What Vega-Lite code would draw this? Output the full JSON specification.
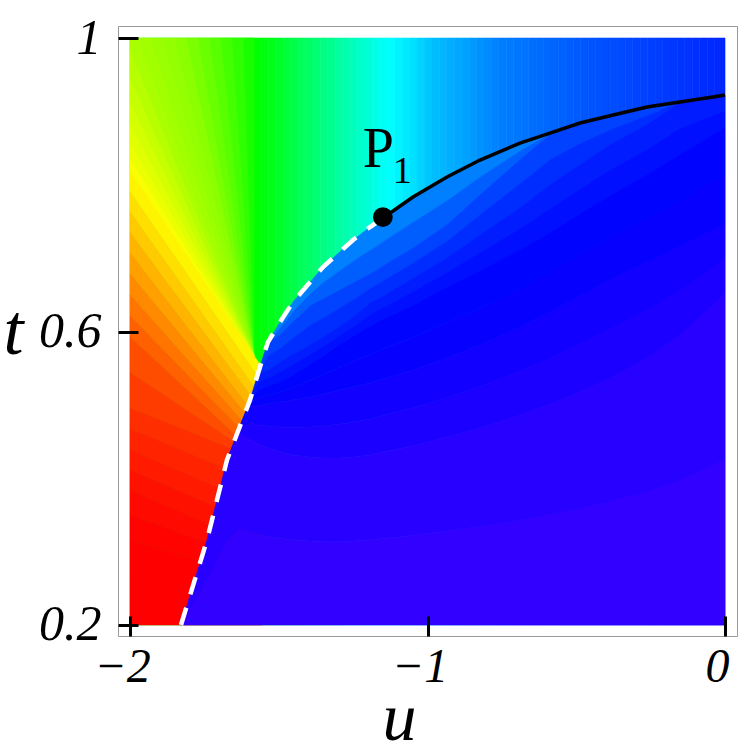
{
  "$schema": "https://vega.github.io/schema/vega-lite/v6.json",
  "width": 619,
  "height": 610,
  "autosize": {"type": "none"},
  "padding": {"left": 118, "top": 26, "right": 10, "bottom": 111},
  "background": "white",
  "config": {"view": {"stroke": "#999999", "strokeWidth": 1}},
  "datasets": {
    "strips": [
      {"u": -2, "u2": -1.56, "h": 120},
      {"u": -1.56, "u2": -1.535, "h": 122.3},
      {"u": -1.535, "u2": -1.51, "h": 125.6},
      {"u": -1.51, "u2": -1.485, "h": 129.7},
      {"u": -1.485, "u2": -1.46, "h": 133.5},
      {"u": -1.46, "u2": -1.435, "h": 137.2},
      {"u": -1.435, "u2": -1.41, "h": 140.8},
      {"u": -1.41, "u2": -1.385, "h": 144},
      {"u": -1.385, "u2": -1.36, "h": 147.3},
      {"u": -1.36, "u2": -1.335, "h": 150.5},
      {"u": -1.335, "u2": -1.31, "h": 153.7},
      {"u": -1.31, "u2": -1.285, "h": 157.2},
      {"u": -1.285, "u2": -1.26, "h": 160.6},
      {"u": -1.26, "u2": -1.235, "h": 164.2},
      {"u": -1.235, "u2": -1.21, "h": 167.6},
      {"u": -1.21, "u2": -1.185, "h": 170.8},
      {"u": -1.185, "u2": -1.16, "h": 174.1},
      {"u": -1.16, "u2": -1.135, "h": 177.3},
      {"u": -1.135, "u2": -1.11, "h": 180.4},
      {"u": -1.11, "u2": -1.085, "h": 182.6},
      {"u": -1.085, "u2": -1.06, "h": 184.9},
      {"u": -1.06, "u2": -1.035, "h": 187.4},
      {"u": -1.035, "u2": -1.01, "h": 190.3},
      {"u": -1.01, "u2": -0.985, "h": 193.2},
      {"u": -0.985, "u2": -0.96, "h": 195.6},
      {"u": -0.96, "u2": -0.935, "h": 197.2},
      {"u": -0.935, "u2": -0.91, "h": 198.8},
      {"u": -0.91, "u2": -0.885, "h": 200.4},
      {"u": -0.885, "u2": -0.86, "h": 202},
      {"u": -0.86, "u2": -0.835, "h": 203.7},
      {"u": -0.835, "u2": -0.81, "h": 205.4},
      {"u": -0.81, "u2": -0.785, "h": 207.2},
      {"u": -0.785, "u2": -0.76, "h": 208.9},
      {"u": -0.76, "u2": -0.735, "h": 210.3},
      {"u": -0.735, "u2": -0.71, "h": 211.2},
      {"u": -0.71, "u2": -0.685, "h": 212.1},
      {"u": -0.685, "u2": -0.66, "h": 213},
      {"u": -0.66, "u2": -0.635, "h": 213.9},
      {"u": -0.635, "u2": -0.61, "h": 214.8},
      {"u": -0.61, "u2": -0.585, "h": 215.7},
      {"u": -0.585, "u2": -0.56, "h": 216.5},
      {"u": -0.56, "u2": -0.535, "h": 217.2},
      {"u": -0.535, "u2": -0.51, "h": 218},
      {"u": -0.51, "u2": -0.485, "h": 218.7},
      {"u": -0.485, "u2": -0.46, "h": 219.5},
      {"u": -0.46, "u2": -0.435, "h": 220.2},
      {"u": -0.435, "u2": -0.41, "h": 221},
      {"u": -0.41, "u2": -0.385, "h": 221.6},
      {"u": -0.385, "u2": -0.36, "h": 222.2},
      {"u": -0.36, "u2": -0.335, "h": 222.8},
      {"u": -0.335, "u2": -0.31, "h": 223.4},
      {"u": -0.31, "u2": -0.285, "h": 223.9},
      {"u": -0.285, "u2": -0.26, "h": 224.5},
      {"u": -0.26, "u2": -0.235, "h": 225.1},
      {"u": -0.235, "u2": -0.21, "h": 225.7},
      {"u": -0.21, "u2": -0.185, "h": 226.3},
      {"u": -0.185, "u2": -0.16, "h": 226.9},
      {"u": -0.16, "u2": -0.135, "h": 227.5},
      {"u": -0.135, "u2": -0.11, "h": 228.1},
      {"u": -0.11, "u2": -0.085, "h": 228.7},
      {"u": -0.085, "u2": -0.06, "h": 229.3},
      {"u": -0.06, "u2": -0.035, "h": 229.9},
      {"u": -0.035, "u2": -0.01, "h": 230.5},
      {"u": -0.01, "u2": 0, "h": 230.9}
    ],
    "fan": [
      {"b": "w1", "u": -1.6205, "hi": 1, "lo": 1, "h": 114.2},
      {"b": "w1", "u": -1.5832, "hi": 1, "lo": 0.5666, "h": 114.2},
      {"b": "w2", "u": -1.6578, "hi": 1, "lo": 1, "h": 109},
      {"b": "w2", "u": -1.6205, "hi": 1, "lo": 0.7829, "h": 109},
      {"b": "w2", "u": -1.5832, "hi": 0.5666, "lo": 0.5666, "h": 109},
      {"b": "w3", "u": -1.6955, "hi": 1, "lo": 1, "h": 103.9},
      {"b": "w3", "u": -1.6578, "hi": 1, "lo": 0.8544, "h": 103.9},
      {"b": "w3", "u": -1.5832, "hi": 0.5666, "lo": 0.5666, "h": 103.9},
      {"b": "w4", "u": -1.7334, "hi": 1, "lo": 1, "h": 99.2},
      {"b": "w4", "u": -1.6955, "hi": 1, "lo": 0.8904, "h": 99.2},
      {"b": "w4", "u": -1.5832, "hi": 0.5666, "lo": 0.5666, "h": 99.2},
      {"b": "w5", "u": -1.7718, "hi": 1, "lo": 1, "h": 95.2},
      {"b": "w5", "u": -1.7334, "hi": 1, "lo": 0.9121, "h": 95.2},
      {"b": "w5", "u": -1.5832, "hi": 0.5666, "lo": 0.5666, "h": 95.2},
      {"b": "w6", "u": -1.8104, "hi": 1, "lo": 1, "h": 91.2},
      {"b": "w6", "u": -1.7718, "hi": 1, "lo": 0.9263, "h": 91.2},
      {"b": "w6", "u": -1.5832, "hi": 0.5666, "lo": 0.5666, "h": 91.2},
      {"b": "w7", "u": -1.8497, "hi": 1, "lo": 1, "h": 87.2},
      {"b": "w7", "u": -1.8104, "hi": 1, "lo": 0.9361, "h": 87.2},
      {"b": "w7", "u": -1.5832, "hi": 0.5666, "lo": 0.5666, "h": 87.2},
      {"b": "w8", "u": -1.8897, "hi": 1, "lo": 1, "h": 85.4},
      {"b": "w8", "u": -1.8497, "hi": 1, "lo": 0.9434, "h": 85.4},
      {"b": "w8", "u": -1.5832, "hi": 0.5666, "lo": 0.5666, "h": 85.4},
      {"b": "w9", "u": -1.9304, "hi": 1, "lo": 1, "h": 83.7},
      {"b": "w9", "u": -1.8897, "hi": 1, "lo": 0.9492, "h": 83.7},
      {"b": "w9", "u": -1.5832, "hi": 0.5666, "lo": 0.5666, "h": 83.7},
      {"b": "w10", "u": -1.9724, "hi": 1, "lo": 1, "h": 82},
      {"b": "w10", "u": -1.9304, "hi": 1, "lo": 0.9534, "h": 82},
      {"b": "w10", "u": -1.5832, "hi": 0.5666, "lo": 0.5666, "h": 82},
      {"b": "w11", "u": -2, "hi": 1, "lo": 0.9849, "h": 80.3},
      {"b": "w11", "u": -1.9724, "hi": 1, "lo": 0.9572, "h": 80.3},
      {"b": "w11", "u": -1.5832, "hi": 0.5666, "lo": 0.5666, "h": 80.3},
      {"b": "w12", "u": -2, "hi": 0.9849, "lo": 0.9462, "h": 77},
      {"b": "w12", "u": -1.5832, "hi": 0.5666, "lo": 0.5666, "h": 77},
      {"b": "w13", "u": -2, "hi": 0.9462, "lo": 0.9131, "h": 73.4},
      {"b": "w13", "u": -1.5832, "hi": 0.5666, "lo": 0.5666, "h": 73.4},
      {"b": "w14", "u": -2, "hi": 0.9131, "lo": 0.8844, "h": 70.2},
      {"b": "w14", "u": -1.5832, "hi": 0.5666, "lo": 0.5666, "h": 70.2},
      {"b": "w15", "u": -2, "hi": 0.8844, "lo": 0.8594, "h": 67.3},
      {"b": "w15", "u": -1.5832, "hi": 0.5666, "lo": 0.5666, "h": 67.3},
      {"b": "w16", "u": -2, "hi": 0.8594, "lo": 0.837, "h": 64.4},
      {"b": "w16", "u": -1.5832, "hi": 0.5666, "lo": 0.5666, "h": 64.4},
      {"b": "w17", "u": -2, "hi": 0.837, "lo": 0.8171, "h": 61.5},
      {"b": "w17", "u": -1.5832, "hi": 0.5666, "lo": 0.5666, "h": 61.5},
      {"b": "l1", "u": -2, "hi": 0.8181, "lo": 0.7905, "h": 57.5},
      {"b": "l1", "u": -1.5563, "hi": 0.5509, "lo": 0.53, "h": 57.5},
      {"b": "l2", "u": -2, "hi": 0.7905, "lo": 0.7629, "h": 52.5},
      {"b": "l2", "u": -1.5563, "hi": 0.53, "lo": 0.5091, "h": 52.5},
      {"b": "l3", "u": -2, "hi": 0.7629, "lo": 0.7349, "h": 47.5},
      {"b": "l3", "u": -1.5563, "hi": 0.5091, "lo": 0.4914, "h": 47.5},
      {"b": "l4", "u": -2, "hi": 0.7349, "lo": 0.707, "h": 42.5},
      {"b": "l4", "u": -1.5563, "hi": 0.4914, "lo": 0.4737, "h": 42.5},
      {"b": "l5", "u": -2, "hi": 0.707, "lo": 0.6784, "h": 37.5},
      {"b": "l5", "u": -1.5563, "hi": 0.4737, "lo": 0.4607, "h": 37.5},
      {"b": "l6", "u": -2, "hi": 0.6784, "lo": 0.6497, "h": 32.5},
      {"b": "l6", "u": -1.5563, "hi": 0.4607, "lo": 0.4478, "h": 32.5},
      {"b": "l7", "u": -2, "hi": 0.6497, "lo": 0.6211, "h": 27.5},
      {"b": "l7", "u": -1.5563, "hi": 0.4478, "lo": 0.4363, "h": 27.5},
      {"b": "l8", "u": -2, "hi": 0.6211, "lo": 0.5925, "h": 22.5},
      {"b": "l8", "u": -1.5563, "hi": 0.4363, "lo": 0.425, "h": 22.5},
      {"b": "l9", "u": -2, "hi": 0.5925, "lo": 0.5441, "h": 18},
      {"b": "l9", "u": -1.5563, "hi": 0.425, "lo": 0.4242, "h": 18},
      {"b": "l10", "u": -2, "hi": 0.5441, "lo": 0.4957, "h": 14},
      {"b": "l10", "u": -1.5563, "hi": 0.4242, "lo": 0.4234, "h": 14},
      {"b": "l11", "u": -2, "hi": 0.4957, "lo": 0.4671, "h": 10.75},
      {"b": "l11", "u": -1.5563, "hi": 0.4234, "lo": 0.3924, "h": 10.75},
      {"b": "l12", "u": -2, "hi": 0.4671, "lo": 0.4385, "h": 8.25},
      {"b": "l12", "u": -1.5563, "hi": 0.3924, "lo": 0.3616, "h": 8.25},
      {"b": "l13", "u": -2, "hi": 0.4385, "lo": 0.4112, "h": 6},
      {"b": "l13", "u": -1.5563, "hi": 0.3616, "lo": 0.334, "h": 6},
      {"b": "l14", "u": -2, "hi": 0.4112, "lo": 0.384, "h": 4},
      {"b": "l14", "u": -1.5563, "hi": 0.334, "lo": 0.3063, "h": 4},
      {"b": "l15", "u": -2, "hi": 0.384, "lo": 0.3499, "h": 2.25},
      {"b": "l15", "u": -1.5563, "hi": 0.3063, "lo": 0.2846, "h": 2.25},
      {"b": "l16", "u": -2, "hi": 0.3499, "lo": 0.3158, "h": 0.75},
      {"b": "l16", "u": -1.5563, "hi": 0.2846, "lo": 0.263, "h": 0.75},
      {"b": "l17", "u": -2, "hi": 0.3158, "lo": 0.2, "h": 0},
      {"b": "l17", "u": -1.5563, "hi": 0.263, "lo": 0.2, "h": 0}
    ],
    "blue": [
      {"b": "s1", "u": -1.5361, "hi": 0.5857, "lo": 0.5857, "h": 210},
      {"b": "s1", "u": -1.4958, "hi": 0.6129, "lo": 0.6041, "h": 210},
      {"b": "s1", "u": -1.4521, "hi": 0.6402, "lo": 0.6266, "h": 210},
      {"b": "s1", "u": -1.395, "hi": 0.6672, "lo": 0.651, "h": 210},
      {"b": "s1", "u": -1.3513, "hi": 0.6879, "lo": 0.6661, "h": 210},
      {"b": "s1", "u": -1.2941, "hi": 0.7088, "lo": 0.6827, "h": 210},
      {"b": "s1", "u": -1.2504, "hi": 0.7247, "lo": 0.6954, "h": 210},
      {"b": "s1", "u": -1.1933, "hi": 0.7424, "lo": 0.7104, "h": 210},
      {"b": "s1", "u": -1.1496, "hi": 0.7547, "lo": 0.722, "h": 210},
      {"b": "s1", "u": -1.0487, "hi": 0.7833, "lo": 0.7486, "h": 210},
      {"b": "s1", "u": -0.9345, "hi": 0.8106, "lo": 0.7779, "h": 210},
      {"b": "s1", "u": -0.8235, "hi": 0.8337, "lo": 0.8099, "h": 210},
      {"b": "s1", "u": -0.6891, "hi": 0.8569, "lo": 0.8453, "h": 210},
      {"b": "s1", "u": -0.5882, "hi": 0.8705, "lo": 0.8692, "h": 210},
      {"b": "s1", "u": -0.4874, "hi": 0.8842, "lo": 0.8842, "h": 210},
      {"b": "s2", "u": -1.5361, "hi": 0.5857, "lo": 0.5857, "h": 218},
      {"b": "s2", "u": -1.4958, "hi": 0.6041, "lo": 0.5952, "h": 218},
      {"b": "s2", "u": -1.4521, "hi": 0.6266, "lo": 0.6129, "h": 218},
      {"b": "s2", "u": -1.395, "hi": 0.651, "lo": 0.6348, "h": 218},
      {"b": "s2", "u": -1.3513, "hi": 0.6661, "lo": 0.6443, "h": 218},
      {"b": "s2", "u": -1.2941, "hi": 0.6827, "lo": 0.6566, "h": 218},
      {"b": "s2", "u": -1.2504, "hi": 0.6954, "lo": 0.6661, "h": 218},
      {"b": "s2", "u": -1.1933, "hi": 0.7104, "lo": 0.6784, "h": 218},
      {"b": "s2", "u": -1.1496, "hi": 0.722, "lo": 0.6893, "h": 218},
      {"b": "s2", "u": -1.0487, "hi": 0.7486, "lo": 0.7138, "h": 218},
      {"b": "s2", "u": -0.9345, "hi": 0.7779, "lo": 0.7451, "h": 218},
      {"b": "s2", "u": -0.8235, "hi": 0.8099, "lo": 0.786, "h": 218},
      {"b": "s2", "u": -0.6891, "hi": 0.8453, "lo": 0.8337, "h": 218},
      {"b": "s2", "u": -0.5882, "hi": 0.8692, "lo": 0.8678, "h": 218},
      {"b": "s2", "u": -0.4874, "hi": 0.8842, "lo": 0.8842, "h": 218},
      {"b": "s3", "u": -1.5697, "hi": 0.5428, "lo": 0.5428, "h": 224.5},
      {"b": "s3", "u": -1.5529, "hi": 0.5652, "lo": 0.555, "h": 224.5},
      {"b": "s3", "u": -1.5361, "hi": 0.5857, "lo": 0.5666, "h": 224.5},
      {"b": "s3", "u": -1.4958, "hi": 0.5952, "lo": 0.5768, "h": 224.5},
      {"b": "s3", "u": -1.4521, "hi": 0.6129, "lo": 0.5911, "h": 224.5},
      {"b": "s3", "u": -1.395, "hi": 0.6348, "lo": 0.6082, "h": 224.5},
      {"b": "s3", "u": -1.3513, "hi": 0.6443, "lo": 0.6184, "h": 224.5},
      {"b": "s3", "u": -1.2941, "hi": 0.6566, "lo": 0.6321, "h": 224.5},
      {"b": "s3", "u": -1.2504, "hi": 0.6661, "lo": 0.643, "h": 224.5},
      {"b": "s3", "u": -1.1933, "hi": 0.6784, "lo": 0.6586, "h": 224.5},
      {"b": "s3", "u": -1.1496, "hi": 0.6893, "lo": 0.6689, "h": 224.5},
      {"b": "s3", "u": -1.0487, "hi": 0.7138, "lo": 0.6934, "h": 224.5},
      {"b": "s3", "u": -0.9345, "hi": 0.7451, "lo": 0.7227, "h": 224.5},
      {"b": "s3", "u": -0.8235, "hi": 0.786, "lo": 0.7588, "h": 224.5},
      {"b": "s3", "u": -0.6891, "hi": 0.8337, "lo": 0.801, "h": 224.5},
      {"b": "s3", "u": -0.5882, "hi": 0.8678, "lo": 0.8338, "h": 224.5},
      {"b": "s3", "u": -0.4874, "hi": 0.8842, "lo": 0.8556, "h": 224.5},
      {"b": "s3", "u": -0.3866, "hi": 0.894, "lo": 0.8741, "h": 224.5},
      {"b": "s3", "u": -0.2622, "hi": 0.906, "lo": 0.8937, "h": 224.5},
      {"b": "s3", "u": -0.1513, "hi": 0.9128, "lo": 0.9121, "h": 224.5},
      {"b": "s3", "u": -0.0403, "hi": 0.9196, "lo": 0.9196, "h": 224.5},
      {"b": "s4", "u": -1.5697, "hi": 0.5428, "lo": 0.5428, "h": 229.5},
      {"b": "s4", "u": -1.5529, "hi": 0.555, "lo": 0.5448, "h": 229.5},
      {"b": "s4", "u": -1.5361, "hi": 0.5666, "lo": 0.5475, "h": 229.5},
      {"b": "s4", "u": -1.4958, "hi": 0.5768, "lo": 0.5584, "h": 229.5},
      {"b": "s4", "u": -1.4521, "hi": 0.5911, "lo": 0.5693, "h": 229.5},
      {"b": "s4", "u": -1.395, "hi": 0.6082, "lo": 0.5816, "h": 229.5},
      {"b": "s4", "u": -1.3513, "hi": 0.6184, "lo": 0.5925, "h": 229.5},
      {"b": "s4", "u": -1.2941, "hi": 0.6321, "lo": 0.6075, "h": 229.5},
      {"b": "s4", "u": -1.2504, "hi": 0.643, "lo": 0.6198, "h": 229.5},
      {"b": "s4", "u": -1.1933, "hi": 0.6586, "lo": 0.6388, "h": 229.5},
      {"b": "s4", "u": -1.1496, "hi": 0.6689, "lo": 0.6484, "h": 229.5},
      {"b": "s4", "u": -1.0487, "hi": 0.6934, "lo": 0.6729, "h": 229.5},
      {"b": "s4", "u": -0.9345, "hi": 0.7227, "lo": 0.7002, "h": 229.5},
      {"b": "s4", "u": -0.8235, "hi": 0.7588, "lo": 0.7315, "h": 229.5},
      {"b": "s4", "u": -0.6891, "hi": 0.801, "lo": 0.7683, "h": 229.5},
      {"b": "s4", "u": -0.5882, "hi": 0.8338, "lo": 0.7997, "h": 229.5},
      {"b": "s4", "u": -0.4874, "hi": 0.8556, "lo": 0.8269, "h": 229.5},
      {"b": "s4", "u": -0.3866, "hi": 0.8741, "lo": 0.8542, "h": 229.5},
      {"b": "s4", "u": -0.2622, "hi": 0.8937, "lo": 0.8814, "h": 229.5},
      {"b": "s4", "u": -0.1513, "hi": 0.9121, "lo": 0.9114, "h": 229.5},
      {"b": "s4", "u": -0.0403, "hi": 0.9196, "lo": 0.9196, "h": 229.5},
      {"b": "s5", "u": -1.5966, "hi": 0.5066, "lo": 0.5066, "h": 233.5},
      {"b": "s5", "u": -1.5697, "hi": 0.5428, "lo": 0.5316, "h": 233.5},
      {"b": "s5", "u": -1.5529, "hi": 0.5448, "lo": 0.5339, "h": 233.5},
      {"b": "s5", "u": -1.5361, "hi": 0.5475, "lo": 0.5366, "h": 233.5},
      {"b": "s5", "u": -1.4958, "hi": 0.5584, "lo": 0.5448, "h": 233.5},
      {"b": "s5", "u": -1.4521, "hi": 0.5693, "lo": 0.555, "h": 233.5},
      {"b": "s5", "u": -1.395, "hi": 0.5816, "lo": 0.5687, "h": 233.5},
      {"b": "s5", "u": -1.3513, "hi": 0.5925, "lo": 0.5796, "h": 233.5},
      {"b": "s5", "u": -1.2941, "hi": 0.6075, "lo": 0.5953, "h": 233.5},
      {"b": "s5", "u": -1.2504, "hi": 0.6198, "lo": 0.6069, "h": 233.5},
      {"b": "s5", "u": -1.1933, "hi": 0.6388, "lo": 0.6232, "h": 233.5},
      {"b": "s5", "u": -1.1496, "hi": 0.6484, "lo": 0.6327, "h": 233.5},
      {"b": "s5", "u": -1.0487, "hi": 0.6729, "lo": 0.6545, "h": 233.5},
      {"b": "s5", "u": -0.9345, "hi": 0.7002, "lo": 0.6804, "h": 233.5},
      {"b": "s5", "u": -0.8235, "hi": 0.7315, "lo": 0.707, "h": 233.5},
      {"b": "s5", "u": -0.6891, "hi": 0.7683, "lo": 0.7397, "h": 233.5},
      {"b": "s5", "u": -0.5882, "hi": 0.7997, "lo": 0.767, "h": 233.5},
      {"b": "s5", "u": -0.4874, "hi": 0.8269, "lo": 0.7935, "h": 233.5},
      {"b": "s5", "u": -0.3866, "hi": 0.8542, "lo": 0.8195, "h": 233.5},
      {"b": "s5", "u": -0.2622, "hi": 0.8814, "lo": 0.8474, "h": 233.5},
      {"b": "s5", "u": -0.1513, "hi": 0.9114, "lo": 0.876, "h": 233.5},
      {"b": "s5", "u": -0.0403, "hi": 0.9196, "lo": 0.8937, "h": 233.5},
      {"b": "s5", "u": 0, "hi": 0.9223, "lo": 0.8998, "h": 233.5},
      {"b": "s6", "u": -1.5966, "hi": 0.5066, "lo": 0.5066, "h": 236.5},
      {"b": "s6", "u": -1.5697, "hi": 0.5316, "lo": 0.5203, "h": 236.5},
      {"b": "s6", "u": -1.5529, "hi": 0.5339, "lo": 0.523, "h": 236.5},
      {"b": "s6", "u": -1.5361, "hi": 0.5366, "lo": 0.5257, "h": 236.5},
      {"b": "s6", "u": -1.4958, "hi": 0.5448, "lo": 0.5312, "h": 236.5},
      {"b": "s6", "u": -1.4521, "hi": 0.555, "lo": 0.5407, "h": 236.5},
      {"b": "s6", "u": -1.395, "hi": 0.5687, "lo": 0.5557, "h": 236.5},
      {"b": "s6", "u": -1.3513, "hi": 0.5796, "lo": 0.5666, "h": 236.5},
      {"b": "s6", "u": -1.2941, "hi": 0.5953, "lo": 0.583, "h": 236.5},
      {"b": "s6", "u": -1.2504, "hi": 0.6069, "lo": 0.5939, "h": 236.5},
      {"b": "s6", "u": -1.1933, "hi": 0.6232, "lo": 0.6075, "h": 236.5},
      {"b": "s6", "u": -1.1496, "hi": 0.6327, "lo": 0.617, "h": 236.5},
      {"b": "s6", "u": -1.0487, "hi": 0.6545, "lo": 0.6361, "h": 236.5},
      {"b": "s6", "u": -0.9345, "hi": 0.6804, "lo": 0.6606, "h": 236.5},
      {"b": "s6", "u": -0.8235, "hi": 0.707, "lo": 0.6825, "h": 236.5},
      {"b": "s6", "u": -0.6891, "hi": 0.7397, "lo": 0.7111, "h": 236.5},
      {"b": "s6", "u": -0.5882, "hi": 0.767, "lo": 0.7342, "h": 236.5},
      {"b": "s6", "u": -0.4874, "hi": 0.7935, "lo": 0.7601, "h": 236.5},
      {"b": "s6", "u": -0.3866, "hi": 0.8195, "lo": 0.7847, "h": 236.5},
      {"b": "s6", "u": -0.2622, "hi": 0.8474, "lo": 0.8133, "h": 236.5},
      {"b": "s6", "u": -0.1513, "hi": 0.876, "lo": 0.8405, "h": 236.5},
      {"b": "s6", "u": -0.0403, "hi": 0.8937, "lo": 0.8678, "h": 236.5},
      {"b": "s6", "u": 0, "hi": 0.8998, "lo": 0.8773, "h": 236.5},
      {"b": "s7", "u": -1.6303, "hi": 0.4711, "lo": 0.4711, "h": 239},
      {"b": "s7", "u": -1.5966, "hi": 0.5066, "lo": 0.5019, "h": 239},
      {"b": "s7", "u": -1.5697, "hi": 0.5203, "lo": 0.5094, "h": 239},
      {"b": "s7", "u": -1.5529, "hi": 0.523, "lo": 0.5114, "h": 239},
      {"b": "s7", "u": -1.5361, "hi": 0.5257, "lo": 0.5135, "h": 239},
      {"b": "s7", "u": -1.4958, "hi": 0.5312, "lo": 0.5176, "h": 239},
      {"b": "s7", "u": -1.4521, "hi": 0.5407, "lo": 0.5237, "h": 239},
      {"b": "s7", "u": -1.395, "hi": 0.5557, "lo": 0.5332, "h": 239},
      {"b": "s7", "u": -1.3513, "hi": 0.5666, "lo": 0.5407, "h": 239},
      {"b": "s7", "u": -1.2941, "hi": 0.583, "lo": 0.5517, "h": 239},
      {"b": "s7", "u": -1.2504, "hi": 0.5939, "lo": 0.5592, "h": 239},
      {"b": "s7", "u": -1.1933, "hi": 0.6075, "lo": 0.5687, "h": 239},
      {"b": "s7", "u": -1.1496, "hi": 0.617, "lo": 0.5762, "h": 239},
      {"b": "s7", "u": -1.0487, "hi": 0.6361, "lo": 0.5918, "h": 239},
      {"b": "s7", "u": -0.9345, "hi": 0.6606, "lo": 0.6123, "h": 239},
      {"b": "s7", "u": -0.8235, "hi": 0.6825, "lo": 0.6321, "h": 239},
      {"b": "s7", "u": -0.6891, "hi": 0.7111, "lo": 0.6586, "h": 239},
      {"b": "s7", "u": -0.5882, "hi": 0.7342, "lo": 0.6804, "h": 239},
      {"b": "s7", "u": -0.4874, "hi": 0.7601, "lo": 0.7043, "h": 239},
      {"b": "s7", "u": -0.3866, "hi": 0.7847, "lo": 0.7275, "h": 239},
      {"b": "s7", "u": -0.2622, "hi": 0.8133, "lo": 0.754, "h": 239},
      {"b": "s7", "u": -0.1513, "hi": 0.8405, "lo": 0.7785, "h": 239},
      {"b": "s7", "u": -0.0403, "hi": 0.8678, "lo": 0.8031, "h": 239},
      {"b": "s7", "u": 0, "hi": 0.8773, "lo": 0.8119, "h": 239},
      {"b": "s8", "u": -1.6303, "hi": 0.4711, "lo": 0.4711, "h": 241.5},
      {"b": "s8", "u": -1.5966, "hi": 0.5019, "lo": 0.4971, "h": 241.5},
      {"b": "s8", "u": -1.5697, "hi": 0.5094, "lo": 0.4985, "h": 241.5},
      {"b": "s8", "u": -1.5529, "hi": 0.5114, "lo": 0.4998, "h": 241.5},
      {"b": "s8", "u": -1.5361, "hi": 0.5135, "lo": 0.5012, "h": 241.5},
      {"b": "s8", "u": -1.4958, "hi": 0.5176, "lo": 0.5039, "h": 241.5},
      {"b": "s8", "u": -1.4521, "hi": 0.5237, "lo": 0.5066, "h": 241.5},
      {"b": "s8", "u": -1.395, "hi": 0.5332, "lo": 0.5107, "h": 241.5},
      {"b": "s8", "u": -1.3513, "hi": 0.5407, "lo": 0.5148, "h": 241.5},
      {"b": "s8", "u": -1.2941, "hi": 0.5517, "lo": 0.5203, "h": 241.5},
      {"b": "s8", "u": -1.2504, "hi": 0.5592, "lo": 0.5244, "h": 241.5},
      {"b": "s8", "u": -1.1933, "hi": 0.5687, "lo": 0.5298, "h": 241.5},
      {"b": "s8", "u": -1.1496, "hi": 0.5762, "lo": 0.5353, "h": 241.5},
      {"b": "s8", "u": -1.0487, "hi": 0.5918, "lo": 0.5475, "h": 241.5},
      {"b": "s8", "u": -0.9345, "hi": 0.6123, "lo": 0.5639, "h": 241.5},
      {"b": "s8", "u": -0.8235, "hi": 0.6321, "lo": 0.5816, "h": 241.5},
      {"b": "s8", "u": -0.6891, "hi": 0.6586, "lo": 0.6061, "h": 241.5},
      {"b": "s8", "u": -0.5882, "hi": 0.6804, "lo": 0.6266, "h": 241.5},
      {"b": "s8", "u": -0.4874, "hi": 0.7043, "lo": 0.6484, "h": 241.5},
      {"b": "s8", "u": -0.3866, "hi": 0.7275, "lo": 0.6702, "h": 241.5},
      {"b": "s8", "u": -0.2622, "hi": 0.754, "lo": 0.6947, "h": 241.5},
      {"b": "s8", "u": -0.1513, "hi": 0.7785, "lo": 0.7165, "h": 241.5},
      {"b": "s8", "u": -0.0403, "hi": 0.8031, "lo": 0.7383, "h": 241.5},
      {"b": "s8", "u": 0, "hi": 0.8119, "lo": 0.7465, "h": 241.5},
      {"b": "s9", "u": -1.6739, "hi": 0.4249, "lo": 0.4249, "h": 244},
      {"b": "s9", "u": -1.6303, "hi": 0.4711, "lo": 0.4657, "h": 244},
      {"b": "s9", "u": -1.5966, "hi": 0.4971, "lo": 0.4746, "h": 244},
      {"b": "s9", "u": -1.5697, "hi": 0.4985, "lo": 0.4726, "h": 244},
      {"b": "s9", "u": -1.5529, "hi": 0.4998, "lo": 0.4719, "h": 244},
      {"b": "s9", "u": -1.5361, "hi": 0.5012, "lo": 0.4712, "h": 244},
      {"b": "s9", "u": -1.4958, "hi": 0.5039, "lo": 0.4699, "h": 244},
      {"b": "s9", "u": -1.4521, "hi": 0.5066, "lo": 0.4692, "h": 244},
      {"b": "s9", "u": -1.395, "hi": 0.5107, "lo": 0.4699, "h": 244},
      {"b": "s9", "u": -1.3513, "hi": 0.5148, "lo": 0.4712, "h": 244},
      {"b": "s9", "u": -1.2941, "hi": 0.5203, "lo": 0.474, "h": 244},
      {"b": "s9", "u": -1.2504, "hi": 0.5244, "lo": 0.4767, "h": 244},
      {"b": "s9", "u": -1.1933, "hi": 0.5298, "lo": 0.4808, "h": 244},
      {"b": "s9", "u": -1.1496, "hi": 0.5353, "lo": 0.4856, "h": 244},
      {"b": "s9", "u": -1.0487, "hi": 0.5475, "lo": 0.4958, "h": 244},
      {"b": "s9", "u": -0.9345, "hi": 0.5639, "lo": 0.5101, "h": 244},
      {"b": "s9", "u": -0.8235, "hi": 0.5816, "lo": 0.5251, "h": 244},
      {"b": "s9", "u": -0.6891, "hi": 0.6061, "lo": 0.5462, "h": 244},
      {"b": "s9", "u": -0.5882, "hi": 0.6266, "lo": 0.5639, "h": 244},
      {"b": "s9", "u": -0.4874, "hi": 0.6484, "lo": 0.583, "h": 244},
      {"b": "s9", "u": -0.3866, "hi": 0.6702, "lo": 0.6034, "h": 244},
      {"b": "s9", "u": -0.2622, "hi": 0.6947, "lo": 0.6293, "h": 244},
      {"b": "s9", "u": -0.1513, "hi": 0.7165, "lo": 0.6559, "h": 244},
      {"b": "s9", "u": -0.0403, "hi": 0.7383, "lo": 0.6872, "h": 244},
      {"b": "s9", "u": 0, "hi": 0.7465, "lo": 0.6995, "h": 244},
      {"b": "s10", "u": -1.6739, "hi": 0.4249, "lo": 0.4249, "h": 246.5},
      {"b": "s10", "u": -1.6303, "hi": 0.4657, "lo": 0.4603, "h": 246.5},
      {"b": "s10", "u": -1.5966, "hi": 0.4746, "lo": 0.4521, "h": 246.5},
      {"b": "s10", "u": -1.5697, "hi": 0.4726, "lo": 0.4467, "h": 246.5},
      {"b": "s10", "u": -1.5529, "hi": 0.4719, "lo": 0.444, "h": 246.5},
      {"b": "s10", "u": -1.5361, "hi": 0.4712, "lo": 0.4412, "h": 246.5},
      {"b": "s10", "u": -1.4958, "hi": 0.4699, "lo": 0.4358, "h": 246.5},
      {"b": "s10", "u": -1.4521, "hi": 0.4692, "lo": 0.4317, "h": 246.5},
      {"b": "s10", "u": -1.395, "hi": 0.4699, "lo": 0.429, "h": 246.5},
      {"b": "s10", "u": -1.3513, "hi": 0.4712, "lo": 0.4276, "h": 246.5},
      {"b": "s10", "u": -1.2941, "hi": 0.474, "lo": 0.4276, "h": 246.5},
      {"b": "s10", "u": -1.2504, "hi": 0.4767, "lo": 0.429, "h": 246.5},
      {"b": "s10", "u": -1.1933, "hi": 0.4808, "lo": 0.4317, "h": 246.5},
      {"b": "s10", "u": -1.1496, "hi": 0.4856, "lo": 0.4358, "h": 246.5},
      {"b": "s10", "u": -1.0487, "hi": 0.4958, "lo": 0.444, "h": 246.5},
      {"b": "s10", "u": -0.9345, "hi": 0.5101, "lo": 0.4562, "h": 246.5},
      {"b": "s10", "u": -0.8235, "hi": 0.5251, "lo": 0.4685, "h": 246.5},
      {"b": "s10", "u": -0.6891, "hi": 0.5462, "lo": 0.4862, "h": 246.5},
      {"b": "s10", "u": -0.5882, "hi": 0.5639, "lo": 0.5012, "h": 246.5},
      {"b": "s10", "u": -0.4874, "hi": 0.583, "lo": 0.5175, "h": 246.5},
      {"b": "s10", "u": -0.3866, "hi": 0.6034, "lo": 0.5366, "h": 246.5},
      {"b": "s10", "u": -0.2622, "hi": 0.6293, "lo": 0.5639, "h": 246.5},
      {"b": "s10", "u": -0.1513, "hi": 0.6559, "lo": 0.5952, "h": 246.5},
      {"b": "s10", "u": -0.0403, "hi": 0.6872, "lo": 0.6361, "h": 246.5},
      {"b": "s10", "u": 0, "hi": 0.6995, "lo": 0.6525, "h": 246.5},
      {"b": "s11", "u": -1.8286, "hi": 0.2, "lo": 0.2, "h": 249.5},
      {"b": "s11", "u": -1.7412, "hi": 0.3158, "lo": 0.2579, "h": 249.5},
      {"b": "s11", "u": -1.6739, "hi": 0.4249, "lo": 0.3125, "h": 249.5},
      {"b": "s11", "u": -1.6303, "hi": 0.4603, "lo": 0.3302, "h": 249.5},
      {"b": "s11", "u": -1.5966, "hi": 0.4521, "lo": 0.3261, "h": 249.5},
      {"b": "s11", "u": -1.5697, "hi": 0.4467, "lo": 0.3234, "h": 249.5},
      {"b": "s11", "u": -1.5529, "hi": 0.444, "lo": 0.322, "h": 249.5},
      {"b": "s11", "u": -1.5361, "hi": 0.4412, "lo": 0.3206, "h": 249.5},
      {"b": "s11", "u": -1.4958, "hi": 0.4358, "lo": 0.3179, "h": 249.5},
      {"b": "s11", "u": -1.4521, "hi": 0.4317, "lo": 0.3159, "h": 249.5},
      {"b": "s11", "u": -1.395, "hi": 0.429, "lo": 0.3145, "h": 249.5},
      {"b": "s11", "u": -1.3513, "hi": 0.4276, "lo": 0.3138, "h": 249.5},
      {"b": "s11", "u": -1.2941, "hi": 0.4276, "lo": 0.3138, "h": 249.5},
      {"b": "s11", "u": -1.2504, "hi": 0.429, "lo": 0.3145, "h": 249.5},
      {"b": "s11", "u": -1.1933, "hi": 0.4317, "lo": 0.3159, "h": 249.5},
      {"b": "s11", "u": -1.1496, "hi": 0.4358, "lo": 0.3179, "h": 249.5},
      {"b": "s11", "u": -1.0487, "hi": 0.444, "lo": 0.322, "h": 249.5},
      {"b": "s11", "u": -0.9345, "hi": 0.4562, "lo": 0.3281, "h": 249.5},
      {"b": "s11", "u": -0.8235, "hi": 0.4685, "lo": 0.3343, "h": 249.5},
      {"b": "s11", "u": -0.6891, "hi": 0.4862, "lo": 0.3431, "h": 249.5},
      {"b": "s11", "u": -0.5882, "hi": 0.5012, "lo": 0.3506, "h": 249.5},
      {"b": "s11", "u": -0.4874, "hi": 0.5175, "lo": 0.3588, "h": 249.5},
      {"b": "s11", "u": -0.3866, "hi": 0.5366, "lo": 0.3683, "h": 249.5},
      {"b": "s11", "u": -0.2622, "hi": 0.5639, "lo": 0.382, "h": 249.5},
      {"b": "s11", "u": -0.1513, "hi": 0.5952, "lo": 0.3976, "h": 249.5},
      {"b": "s11", "u": -0.0403, "hi": 0.6361, "lo": 0.4181, "h": 249.5},
      {"b": "s11", "u": 0, "hi": 0.6525, "lo": 0.4263, "h": 249.5},
      {"b": "s12", "u": -1.8286, "hi": 0.2, "lo": 0.2, "h": 251.5},
      {"b": "s12", "u": -1.7412, "hi": 0.2579, "lo": 0.2, "h": 251.5},
      {"b": "s12", "u": -1.6739, "hi": 0.3125, "lo": 0.2, "h": 251.5},
      {"b": "s12", "u": -1.6303, "hi": 0.3302, "lo": 0.2, "h": 251.5},
      {"b": "s12", "u": -1.5966, "hi": 0.3261, "lo": 0.2, "h": 251.5},
      {"b": "s12", "u": -1.5697, "hi": 0.3234, "lo": 0.2, "h": 251.5},
      {"b": "s12", "u": -1.5529, "hi": 0.322, "lo": 0.2, "h": 251.5},
      {"b": "s12", "u": -1.5361, "hi": 0.3206, "lo": 0.2, "h": 251.5},
      {"b": "s12", "u": -1.4958, "hi": 0.3179, "lo": 0.2, "h": 251.5},
      {"b": "s12", "u": -1.4521, "hi": 0.3159, "lo": 0.2, "h": 251.5},
      {"b": "s12", "u": -1.395, "hi": 0.3145, "lo": 0.2, "h": 251.5},
      {"b": "s12", "u": -1.3513, "hi": 0.3138, "lo": 0.2, "h": 251.5},
      {"b": "s12", "u": -1.2941, "hi": 0.3138, "lo": 0.2, "h": 251.5},
      {"b": "s12", "u": -1.2504, "hi": 0.3145, "lo": 0.2, "h": 251.5},
      {"b": "s12", "u": -1.1933, "hi": 0.3159, "lo": 0.2, "h": 251.5},
      {"b": "s12", "u": -1.1496, "hi": 0.3179, "lo": 0.2, "h": 251.5},
      {"b": "s12", "u": -1.0487, "hi": 0.322, "lo": 0.2, "h": 251.5},
      {"b": "s12", "u": -0.9345, "hi": 0.3281, "lo": 0.2, "h": 251.5},
      {"b": "s12", "u": -0.8235, "hi": 0.3343, "lo": 0.2, "h": 251.5},
      {"b": "s12", "u": -0.6891, "hi": 0.3431, "lo": 0.2, "h": 251.5},
      {"b": "s12", "u": -0.5882, "hi": 0.3506, "lo": 0.2, "h": 251.5},
      {"b": "s12", "u": -0.4874, "hi": 0.3588, "lo": 0.2, "h": 251.5},
      {"b": "s12", "u": -0.3866, "hi": 0.3683, "lo": 0.2, "h": 251.5},
      {"b": "s12", "u": -0.2622, "hi": 0.382, "lo": 0.2, "h": 251.5},
      {"b": "s12", "u": -0.1513, "hi": 0.3976, "lo": 0.2, "h": 251.5},
      {"b": "s12", "u": -0.0403, "hi": 0.4181, "lo": 0.2, "h": 251.5},
      {"b": "s12", "u": 0, "hi": 0.4263, "lo": 0.2, "h": 251.5}
    ],
    "dash": [
      {"u": -1.8286, "t": 0.2},
      {"u": -1.7412, "t": 0.3158},
      {"u": -1.6739, "t": 0.4249},
      {"u": -1.6303, "t": 0.4711},
      {"u": -1.5966, "t": 0.5066},
      {"u": -1.5697, "t": 0.5428},
      {"u": -1.5529, "t": 0.5652},
      {"u": -1.5361, "t": 0.5857},
      {"u": -1.4958, "t": 0.6129},
      {"u": -1.4521, "t": 0.6402},
      {"u": -1.395, "t": 0.6672},
      {"u": -1.3513, "t": 0.6879},
      {"u": -1.2941, "t": 0.7088},
      {"u": -1.2504, "t": 0.7247},
      {"u": -1.1933, "t": 0.7424},
      {"u": -1.1496, "t": 0.7547}
    ],
    "solid": [
      {"u": -1.1496, "t": 0.7547},
      {"u": -1.0487, "t": 0.7833},
      {"u": -0.9345, "t": 0.8106},
      {"u": -0.8235, "t": 0.8337},
      {"u": -0.6891, "t": 0.8569},
      {"u": -0.5882, "t": 0.8705},
      {"u": -0.4874, "t": 0.8842},
      {"u": -0.3866, "t": 0.894},
      {"u": -0.2622, "t": 0.906},
      {"u": -0.1513, "t": 0.9128},
      {"u": -0.0403, "t": 0.9196},
      {"u": 0, "t": 0.9223}
    ],
    "p1": [{"u": -1.15, "t": 0.756, "name": "P", "sub": "1"}]
  },
  "layer": [
    {
      "data": {"name": "strips"},
      "mark": {"type": "rect", "strokeWidth": 0.6},
      "encoding": {
        "x": {"field": "u", "type": "quantitative",
              "scale": {"domain": [-2.0403, 0.0403], "nice": false, "zero": false},
              "axis": {"values": [-2, -1, 0], "format": "~g", "title": "u",
                       "tickSize": -20, "tickWidth": 3, "tickColor": "black",
                       "domain": false, "grid": false,
                       "labelFont": "Liberation Serif", "labelFontStyle": "italic", "labelFontSize": 48,
                       "labelColor": "black", "labelPadding": 27, "labelOffset": -8, "labelFlush": false, "labelOverlap": false,
                       "titleFont": "Liberation Serif", "titleFontStyle": "italic", "titleFontWeight": "normal",
                       "titleFontSize": 68, "titleColor": "black", "titleX": 281, "titleY": 103,
                       "titleBaseline": "alphabetic", "titleAlign": "center", "zindex": 1}},
        "x2": {"field": "u2"},
        "y": {"datum": 0.2, "type": "quantitative",
              "scale": {"domain": [0.185, 1.0164], "nice": false, "zero": false},
              "axis": {"values": [0.2, 0.6, 1], "format": "~g", "title": "t",
                       "tickSize": -20, "tickWidth": 3, "tickColor": "black",
                       "domain": false, "grid": false,
                       "labelFont": "Liberation Serif", "labelFontStyle": "italic", "labelFontSize": 50,
                       "labelColor": "black", "labelPadding": 37, "labelOverlap": false,
                       "titleFont": "Liberation Serif", "titleFontStyle": "italic", "titleFontWeight": "normal",
                       "titleFontSize": 72, "titleColor": "black", "titleAngle": 0, "titleX": -105, "titleY": 327,
                       "titleBaseline": "alphabetic", "titleAlign": "center", "zindex": 1}},
        "y2": {"datum": 1},
        "color": {"field": "h", "type": "quantitative", "legend": null,
                  "scale": {"type": "linear", "domain": [0, 60, 120, 180, 240, 300],
                            "range": ["#ff0000", "#ffff00", "#00ff00", "#00ffff", "#0000ff", "#ff00ff"], "interpolate": "rgb"}},
        "stroke": {"field": "h", "type": "quantitative", "legend": null,
                  "scale": {"type": "linear", "domain": [0, 60, 120, 180, 240, 300],
                            "range": ["#ff0000", "#ffff00", "#00ff00", "#00ffff", "#0000ff", "#ff00ff"], "interpolate": "rgb"}}
      }
    },
    {
      "data": {"name": "fan"},
      "mark": {"type": "area", "orient": "vertical", "strokeWidth": 0.6},
      "encoding": {
        "x": {"field": "u", "type": "quantitative", "scale": {"domain": [-2.0403, 0.0403], "nice": false, "zero": false}},
        "y": {"field": "hi", "type": "quantitative", "stack": null, "scale": {"domain": [0.185, 1.0164], "nice": false, "zero": false}},
        "y2": {"field": "lo"},
        "detail": {"field": "b", "type": "nominal"},
        "color": {"field": "h", "type": "quantitative", "legend": null,
                  "scale": {"type": "linear", "domain": [0, 60, 120, 180, 240, 300],
                            "range": ["#ff0000", "#ffff00", "#00ff00", "#00ffff", "#0000ff", "#ff00ff"], "interpolate": "rgb"}},
        "stroke": {"field": "h", "type": "quantitative", "legend": null,
                  "scale": {"type": "linear", "domain": [0, 60, 120, 180, 240, 300],
                            "range": ["#ff0000", "#ffff00", "#00ff00", "#00ffff", "#0000ff", "#ff00ff"], "interpolate": "rgb"}}
      }
    },
    {
      "data": {"name": "blue"},
      "mark": {"type": "area", "orient": "vertical", "strokeWidth": 0.6},
      "encoding": {
        "x": {"field": "u", "type": "quantitative", "scale": {"domain": [-2.0403, 0.0403], "nice": false, "zero": false}},
        "y": {"field": "hi", "type": "quantitative", "stack": null, "scale": {"domain": [0.185, 1.0164], "nice": false, "zero": false}},
        "y2": {"field": "lo"},
        "detail": {"field": "b", "type": "nominal"},
        "color": {"field": "h", "type": "quantitative", "legend": null,
                  "scale": {"type": "linear", "domain": [0, 60, 120, 180, 240, 300],
                            "range": ["#ff0000", "#ffff00", "#00ff00", "#00ffff", "#0000ff", "#ff00ff"], "interpolate": "rgb"}},
        "stroke": {"field": "h", "type": "quantitative", "legend": null,
                  "scale": {"type": "linear", "domain": [0, 60, 120, 180, 240, 300],
                            "range": ["#ff0000", "#ffff00", "#00ff00", "#00ffff", "#0000ff", "#ff00ff"], "interpolate": "rgb"}}
      }
    },
    {
      "data": {"name": "dash"},
      "mark": {"type": "line", "color": "white", "strokeWidth": 4.5, "strokeDash": [18, 14], "strokeCap": "butt"},
      "encoding": {
        "x": {"field": "u", "type": "quantitative", "scale": {"domain": [-2.0403, 0.0403], "nice": false, "zero": false}},
        "y": {"field": "t", "type": "quantitative", "scale": {"domain": [0.185, 1.0164], "nice": false, "zero": false}}
      }
    },
    {
      "data": {"name": "solid"},
      "mark": {"type": "line", "color": "black", "strokeWidth": 3.5},
      "encoding": {
        "x": {"field": "u", "type": "quantitative", "scale": {"domain": [-2.0403, 0.0403], "nice": false, "zero": false}},
        "y": {"field": "t", "type": "quantitative", "scale": {"domain": [0.185, 1.0164], "nice": false, "zero": false}}
      }
    },
    {
      "data": {"name": "p1"},
      "mark": {"type": "point", "filled": true, "color": "black", "size": 390, "opacity": 1},
      "encoding": {
        "x": {"field": "u", "type": "quantitative", "scale": {"domain": [-2.0403, 0.0403], "nice": false, "zero": false}},
        "y": {"field": "t", "type": "quantitative", "scale": {"domain": [0.185, 1.0164], "nice": false, "zero": false}}
      }
    },
    {
      "data": {"name": "p1"},
      "mark": {"type": "text", "font": "Liberation Serif", "fontSize": 56, "align": "left", "baseline": "alphabetic", "dx": -20, "dy": -50, "color": "black"},
      "encoding": {
        "x": {"field": "u", "type": "quantitative", "scale": {"domain": [-2.0403, 0.0403], "nice": false, "zero": false}},
        "y": {"field": "t", "type": "quantitative", "scale": {"domain": [0.185, 1.0164], "nice": false, "zero": false}},
        "text": {"field": "name"}
      }
    },
    {
      "data": {"name": "p1"},
      "mark": {"type": "text", "font": "Liberation Serif", "fontSize": 38, "align": "left", "baseline": "alphabetic", "dx": 10, "dy": -34, "color": "black"},
      "encoding": {
        "x": {"field": "u", "type": "quantitative", "scale": {"domain": [-2.0403, 0.0403], "nice": false, "zero": false}},
        "y": {"field": "t", "type": "quantitative", "scale": {"domain": [0.185, 1.0164], "nice": false, "zero": false}},
        "text": {"field": "sub"}
      }
    }
  ]
}
